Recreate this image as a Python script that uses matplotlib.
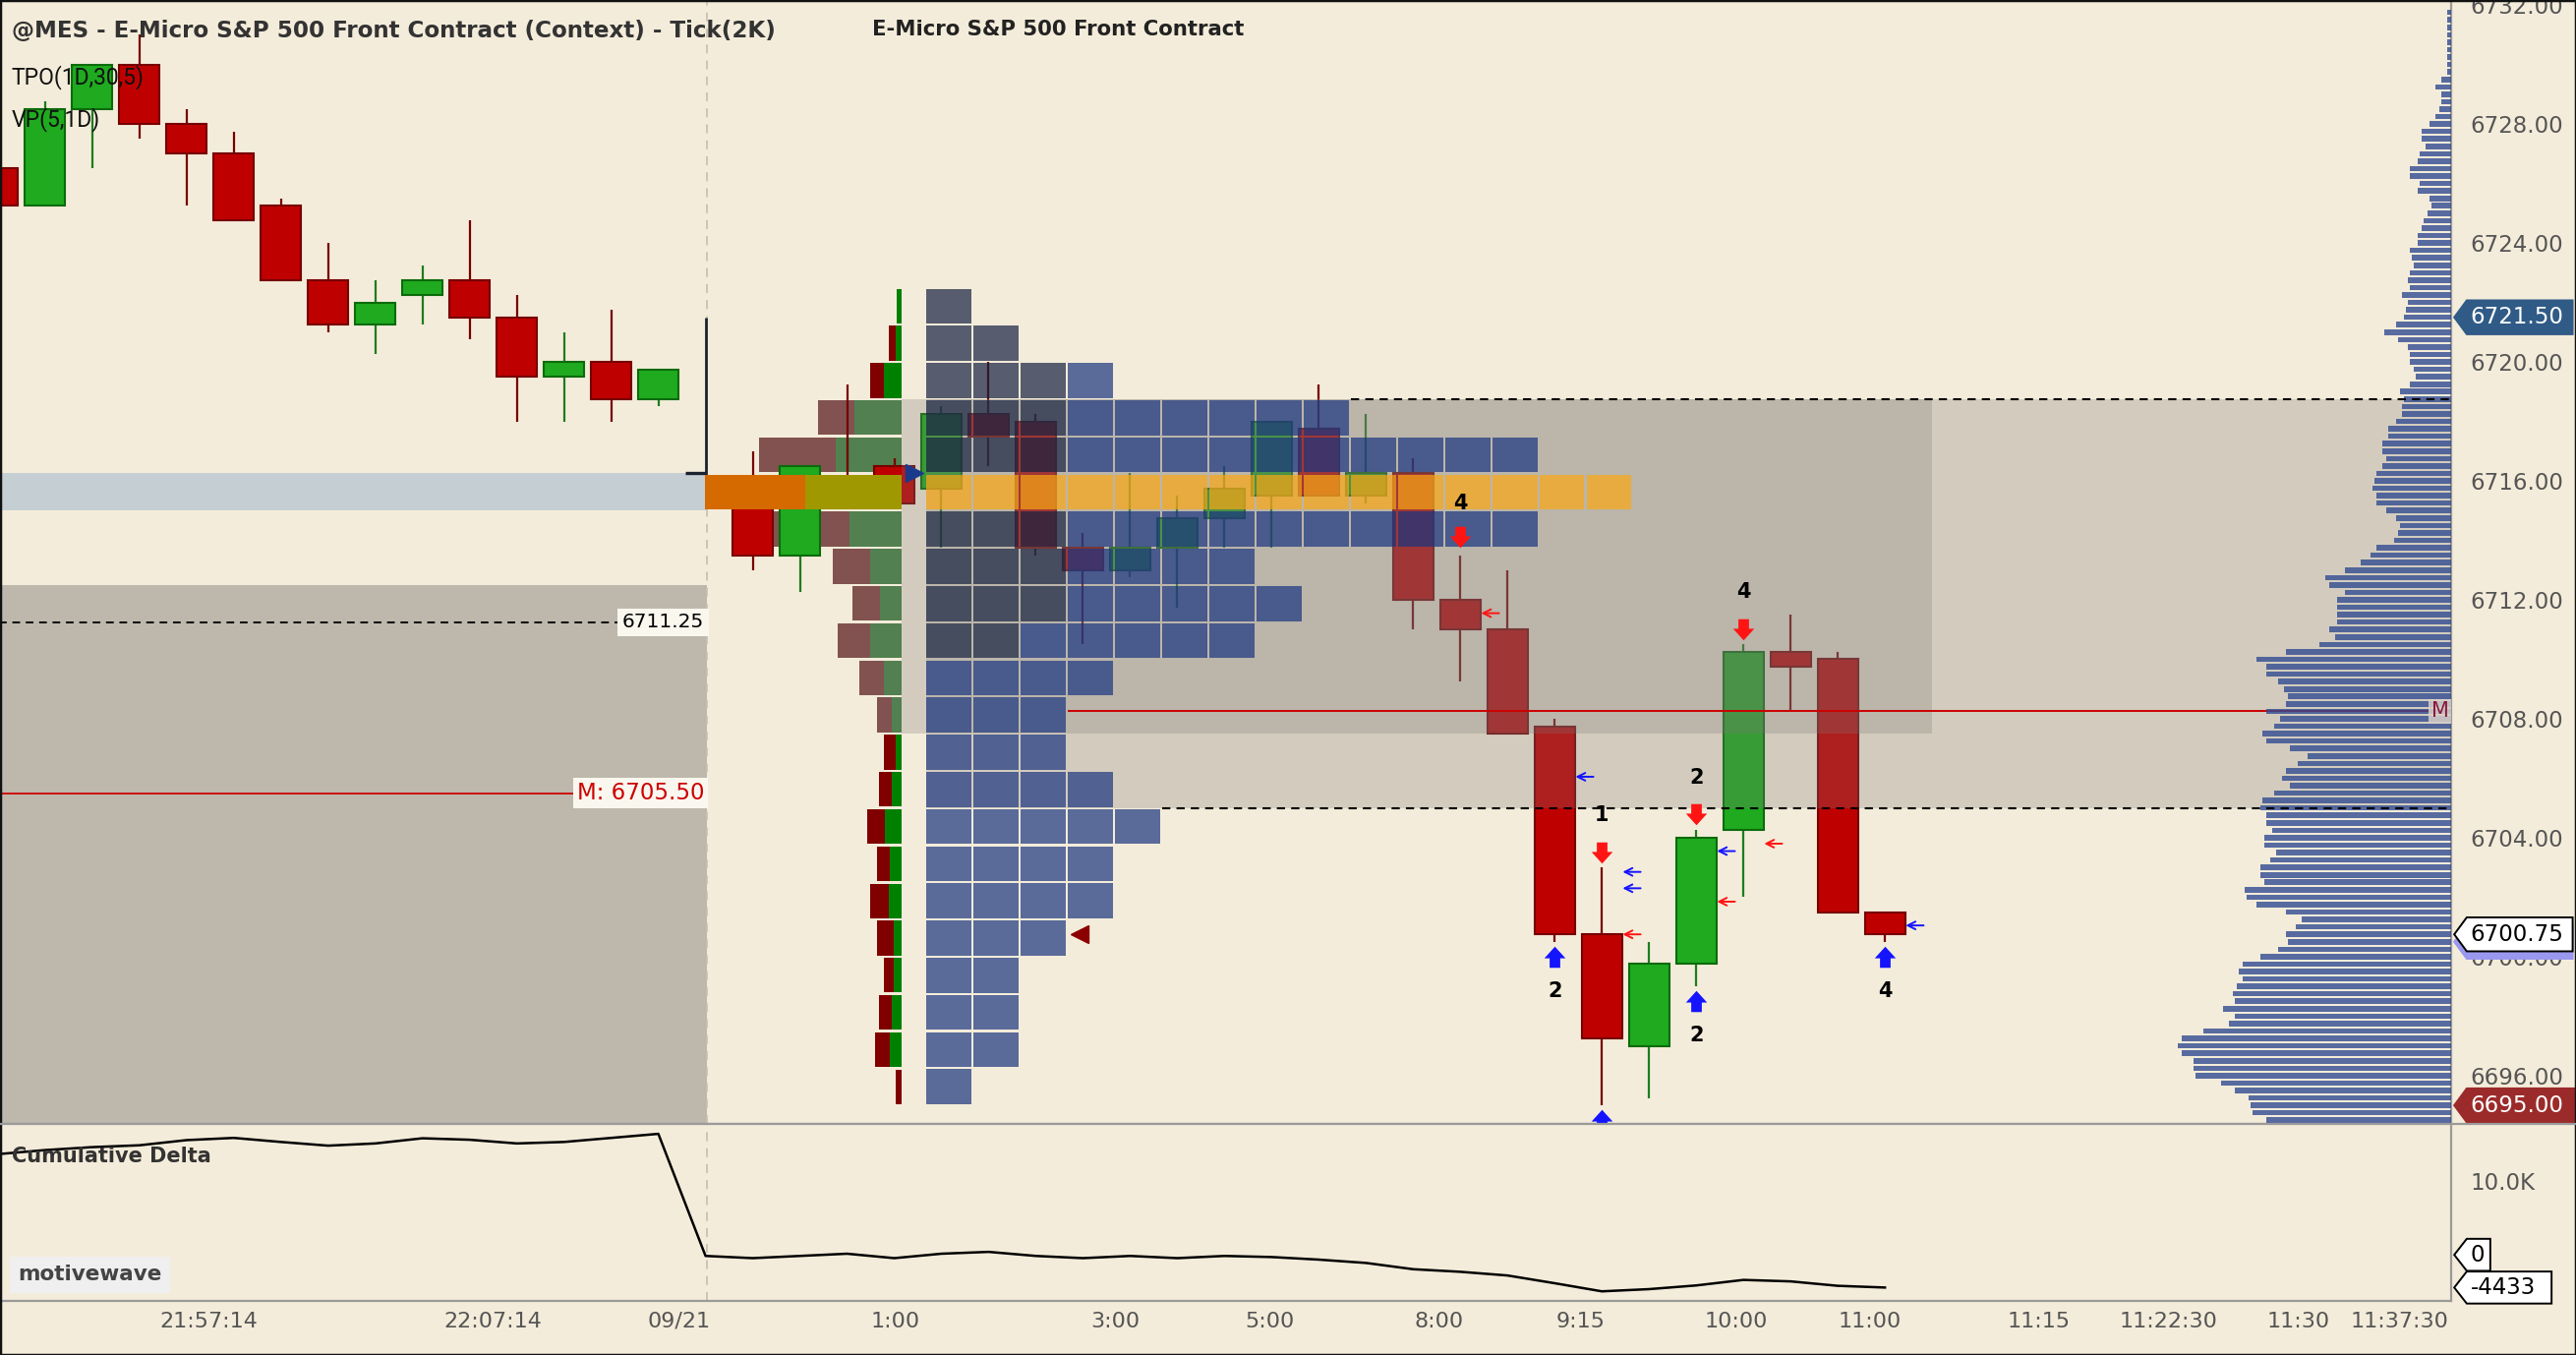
import matplotlib
matplotlib.use("Agg")

import matplotlib.pyplot as plt
import matplotlib.transforms as mtransforms
import numpy as np
from matplotlib.patches import Polygon, Rectangle
from matplotlib.path import Path


# ---- candles, one per slot on the time axis (slot 15 is the session break) ----
candle_slot = list(range(15)) + list(range(16, 41))
candle_open = [6726.5, 6725.25, 6728.5, 6730.0, 6728.0, 6727.0, 6725.25, 6722.75, 6721.25, 6722.25,
               6722.75, 6721.5, 6719.5, 6720.0, 6718.75,
               6716.0, 6713.5, 6716.0, 6716.5, 6715.75, 6718.25, 6718.0, 6713.75, 6713.0, 6713.75,
               6714.75, 6715.5, 6717.75, 6715.5, 6716.25, 6712.0, 6711.0, 6707.75, 6700.75, 6697.0,
               6699.75, 6704.25, 6710.25, 6710.0, 6701.5]
candle_high = [6726.5, 6728.75, 6730.0, 6731.0, 6728.5, 6727.75, 6725.5, 6724.0, 6722.75, 6723.25,
               6724.75, 6722.25, 6721.0, 6721.75, 6719.75,
               6717.0, 6716.5, 6719.25, 6716.75, 6718.5, 6720.0, 6718.25, 6714.25, 6716.25, 6715.5,
               6716.5, 6718.0, 6719.25, 6718.25, 6716.75, 6713.5, 6713.0, 6708.0, 6703.0, 6700.5,
               6704.25, 6710.5, 6711.5, 6710.25, 6701.5]
candle_low = [6725.25, 6725.25, 6726.5, 6727.5, 6725.25, 6724.75, 6722.75, 6721.0, 6720.25, 6721.25,
              6720.75, 6718.0, 6718.0, 6718.0, 6718.5,
              6713.0, 6712.25, 6715.25, 6715.25, 6713.75, 6716.5, 6713.5, 6710.5, 6712.75, 6711.75,
              6713.75, 6713.75, 6715.5, 6715.25, 6711.0, 6709.25, 6707.5, 6700.5, 6695.0, 6695.25,
              6699.0, 6702.0, 6708.25, 6701.5, 6700.5]
candle_close = [6725.25, 6728.5, 6730.0, 6728.0, 6727.0, 6724.75, 6722.75, 6721.25, 6722.0, 6722.75,
                6721.5, 6719.5, 6720.0, 6718.75, 6719.75,
                6713.5, 6716.5, 6715.5, 6715.25, 6718.25, 6717.5, 6713.75, 6713.0, 6713.75, 6714.75,
                6715.75, 6718.0, 6715.5, 6716.25, 6712.0, 6711.0, 6707.5, 6700.75, 6697.25, 6699.75,
                6704.0, 6710.25, 6709.75, 6701.5, 6700.75]

# session break bar (context instrument)
break_slot = 15
break_high, break_low, break_open = 6721.5, 6715.5, 6716.25

# ---- session profile: rows of 1.25 points from the top of the range ----
profile_top = 6722.5
row_size = 1.25
tpo_counts = [1, 2, 4, 9, 13, 15, 13, 7, 8, 7, 4, 3, 3, 4, 5, 4, 4, 3, 2, 2, 2, 1]
tpo_early = [1, 2, 3, 3, 3, 0, 3, 3, 3, 2, 0, 0, 0, 0, 0, 0, 0, 0, 0, 0, 0, 0]
poc_row = 5
vp_sell = [0, 4, 8, 22, 47, 61, 46, 23, 17, 20, 15, 9, 7, 8, 11, 8, 11, 10, 6, 8, 9, 4]
vp_buy = [3, 4, 11, 29, 40, 59, 32, 19, 13, 19, 11, 6, 4, 6, 10, 7, 8, 5, 5, 6, 7, 0]
va_rows = range(3, 12)
va_high = 6718.75
tpo_va_low = 6707.5
vp_va_low = 6705.0
mid_line = 6708.25
session_open = 6716.25
last_price = 6700.75

# previous session levels
prev_level = 6711.25
prev_mid = 6705.5
prev_va_top = 6712.5
prev_poc = (6715.0, 6716.25)

# ---- composite volume profile at the right edge, 0.25 tick rows from the top ----
vp_top_price = 6731.75
vp_right_vol = [2, 2, 2, 2, 2, 2, 2, 2, 2,
                5, 8, 5, 5, 6, 8, 11, 15, 15, 13, 16, 17, 21, 21, 16, 17, 11, 10, 12, 14,
                15, 17, 17, 21, 20, 19, 21, 22, 21, 25, 22, 23, 24, 28, 34, 27, 22, 21, 21, 19,
                18, 21, 26, 24, 25, 25, 28, 32, 32, 35, 35, 33, 35, 38, 39, 40, 38, 38, 33, 28,
                26, 27, 29, 38, 41, 46, 54, 64, 62, 54, 58, 58, 58, 58, 62, 59, 67, 84, 99, 94,
                94, 88,
                85, 83, 84, 94, 87, 90, 96, 94, 82, 73, 78, 84, 86, 82, 90, 96, 97, 94, 94, 91,
                95, 95, 89, 92, 97, 97, 95, 105, 104, 99, 84, 76, 79, 84, 83, 88, 97, 106, 108, 106,
                109, 111, 110, 116, 110, 113, 126, 137, 139, 137, 131, 131, 130, 117, 110, 103, 102, 101, 94]

# ---- signals ----
sell_sig_slot = [31, 34, 36, 37]
sell_sig_price = [6714.1, 6703.5, 6704.8, 6711.0]
sell_sig_label = ["4", "1", "2", "4"]
sell_label_price = [6715.25, 6704.75, 6706.0, 6712.25]
buy_sig_slot = [33, 34, 36, 40]
buy_sig_price = [6700.0, 6694.5, 6698.5, 6700.0]
buy_sig_label = ["2", "", "2", "4"]
buy_label_price = [6698.85, 6694.0, 6697.35, 6698.85]
tick_arrow_slot = [31, 33, 34, 34, 34, 36, 36, 37, 40]
tick_arrow_price = [6711.55, 6706.05, 6702.85, 6702.3, 6700.75, 6703.55, 6701.85, 6703.8, 6701.05]
tick_arrow_side = ["sell", "buy", "buy", "buy", "sell", "buy", "sell", "sell", "buy"]

# ---- cumulative delta, one value per slot 0..40 ----
cum_delta = [13650, 14200, 14600, 14850, 15550, 15850, 15300, 14800, 15100, 15800,
             15600, 15100, 15300, 15850, 16400,
             -150,
             -450, -150, 150, -450, 150, 400, -150, -450, -150, -450,
             -150, -300, -650, -1100, -1950, -2300, -2800, -3850, -4950, -4650,
             -4150, -3400, -3600, -4200, -4433]

# ---- time axis ----
time_ticks = [4.47, 10.49, 14.43, 19.02, 23.69, 26.96, 30.55, 33.54, 36.85, 39.67, 43.26, 46.0, 48.76, 50.91]
time_labels = ["21:57:14", "22:07:14", "09/21", "1:00", "3:00", "5:00", "8:00", "9:15", "10:00",
               "11:00", "11:15", "11:22:30", "11:30", "11:37:30"]

BG = "#f4ecda"
RED, RED_EDGE = "#bf0000", "#760000"
GREEN, GREEN_EDGE = "#1faa1f", "#0b6b0b"
OVERLAY = "#7d7876"
AXIS_TXT = "#555555"
UI_FONT = ["Roboto", "DejaVu Sans"]
WIDE_FONT = ["DejaVu Sans"]

X0, X1 = 0.045, 52.0
divider = 15.02
vp_right = 19.16
tpo_x0 = 19.68
tpo_va_right = 41.0
vp_left_unit = 1 / 28.72
vp_right_unit = 1 / 24.0

fig = plt.figure(figsize=(26.2, 13.78), dpi=100, facecolor=BG)
ax = fig.add_axes([0.0, 0.1702, 0.9515, 0.8298], facecolor=BG)
ax2 = fig.add_axes([0.0, 0.0401, 0.9515, 0.1301], facecolor=BG, sharex=ax)
ax.set_xlim(X0, X1)
ax.set_ylim(6694.36, 6732.17)
ax2.set_ylim(-6214, 17684)

# previous session backdrop on the left
ax.add_patch(Rectangle((-1, 6690), divider + 1, prev_va_top - 6690, color="#bdb8ab", lw=0, zorder=0.5))
ax.add_patch(Rectangle((-1, prev_poc[0]), divider + 1, prev_poc[1] - prev_poc[0], color="#c5cfd3", lw=0, zorder=0.6))
ax.hlines(prev_level, -1, divider, colors="black", linestyles=(0, (4, 3)), lw=1.4, zorder=1)
ax.hlines(prev_mid, -1, divider, colors="#cc0000", lw=1.3, zorder=1)
ax.text(divider - 0.05, prev_level, f"{prev_level:.2f}", ha="right", va="center", fontsize=14.5,
        family=WIDE_FONT, color="black", zorder=2,
        bbox=dict(boxstyle="square,pad=0.22", fc="#faf7ef", ec="none"))
ax.text(divider - 0.05, prev_mid, f"M: {prev_mid:.2f}", ha="right", va="center", fontsize=16.5,
        family=WIDE_FONT, color="#cc0000", zorder=2,
        bbox=dict(boxstyle="square,pad=0.18", fc="#faf7ef", ec="none"))

for a in (ax, ax2):
    a.axvline(divider, color="#c9c1b3", ls=(0, (5, 4)), lw=1.3, zorder=0.8)

# session volume profile (sell left / buy right), POC row drawn over candles
for r in range(len(vp_sell)):
    lo = profile_top - (r + 1) * row_size + 0.04
    h = row_size - 0.08
    b = vp_buy[r] * vp_left_unit
    s = vp_sell[r] * vp_left_unit
    if r == poc_row:
        sc, bc, z = "#d46a00", "#a09800", 4.5
    elif r in va_rows:
        sc, bc, z = "#815250", "#528050", 2
    else:
        sc, bc, z = "#800000", "#008000", 2
    ax.barh(lo, b, left=vp_right - b, height=h, align="edge", color=bc, lw=0, zorder=z)
    ax.barh(lo, s, left=vp_right - b - s, height=h, align="edge", color=sc, lw=0, zorder=z)

# candles
for x, o, hi, lo, c in zip(candle_slot, candle_open, candle_high, candle_low, candle_close):
    up = c >= o
    body = GREEN if up else RED
    edge = GREEN_EDGE if up else RED_EDGE
    wick = "#1d7d1d" if up else RED_EDGE
    ax.vlines(x, lo, hi, colors=wick, lw=1.6, zorder=3)
    ax.bar(x, max(abs(c - o), 0.06), bottom=min(o, c), width=0.86, color=body,
           edgecolor=edge, lw=1.5, zorder=3.01)

ax.vlines(break_slot, break_low, break_high, colors="#1a2230", lw=2.0, zorder=3)
ax.hlines(break_open, break_slot - 0.42, break_slot, colors="#1a2230", lw=2.4, zorder=3)

# value area overlays
ax.add_patch(Rectangle((tpo_x0, vp_va_low), X1 + 1 - tpo_x0, va_high - vp_va_low,
                       fc=OVERLAY, alpha=0.27, lw=0, zorder=3.5))
ax.add_patch(Rectangle((vp_right, tpo_va_low), tpo_va_right - vp_right, va_high - tpo_va_low,
                       fc=OVERLAY, alpha=0.27, lw=0, zorder=3.5))

# TPO blocks
for r, (n, early) in enumerate(zip(tpo_counts, tpo_early)):
    lo = profile_top - (r + 1) * row_size + 0.035
    for k in range(n):
        if r == poc_row:
            col = "#faa713"
        elif k < early:
            col = "#152140"
        else:
            col = "#193480"
        ax.bar(tpo_x0 + k, row_size - 0.07, bottom=lo, width=0.95, align="edge",
               color=col, alpha=0.7, lw=0, zorder=4)


def row_of(price):
    return int((profile_top - price) / row_size)


ax.plot(vp_right + 0.26, session_open, marker=">", ms=13, color="#1c3a8c", zorder=8, ls="none")
ax.plot(tpo_x0 + tpo_counts[row_of(last_price)] + 0.25, last_price, marker="<", ms=13,
        color="#8b0000", zorder=8, ls="none")

# composite profile on the right edge
vp_prices = vp_top_price - 0.25 * np.arange(len(vp_right_vol))
widths = np.array(vp_right_vol) * vp_right_unit
ax.barh(vp_prices, widths, left=X1 - widths, height=0.185, color="#314b92", alpha=0.8, lw=0, zorder=5)

# value area edges and midpoint
ax.hlines(va_high, tpo_x0 + tpo_counts[row_of(va_high)], X1, colors="black",
          linestyles=(0, (4, 3)), lw=1.5, zorder=6)
ax.hlines(vp_va_low, tpo_x0 + tpo_counts[row_of(vp_va_low)], X1, colors="black",
          linestyles=(0, (4, 3)), lw=1.5, zorder=6)
ax.hlines(mid_line, tpo_x0 + tpo_counts[row_of(mid_line)], X1, colors="#cc0000", lw=1.4, zorder=4.8)
ax.text(X1 - 0.05, mid_line, "M", ha="right", va="center", fontsize=15, family=WIDE_FONT,
        color="#8a1a40", zorder=6,
        bbox=dict(boxstyle="square,pad=0.12", fc="#d8d0c8", ec="none", alpha=0.85))

# signals
down_arrow = Path([(-0.25, 0.5), (0.25, 0.5), (0.25, 0.05), (0.5, 0.05), (0, -0.5),
                   (-0.5, 0.05), (-0.25, 0.05), (-0.25, 0.5)], closed=True)
up_arrow = Path([(-0.25, -0.5), (0.25, -0.5), (0.25, -0.05), (0.5, -0.05), (0, 0.5),
                 (-0.5, -0.05), (-0.25, -0.05), (-0.25, -0.5)], closed=True)
ax.plot(sell_sig_slot, sell_sig_price, ls="none", marker=down_arrow, ms=15.5, color="#ff1414",
        mec="none", zorder=8)
ax.plot(buy_sig_slot, buy_sig_price, ls="none", marker=up_arrow, ms=15.5, color="#1414ff",
        mec="none", zorder=8)
for x, y, t in zip(sell_sig_slot + buy_sig_slot, sell_label_price + buy_label_price,
                   sell_sig_label + buy_sig_label):
    if t:
        ax.text(x, y, t, ha="center", va="center", fontsize=15, fontweight="bold",
                family=WIDE_FONT, color="black", zorder=8)
for x, y, side in zip(tick_arrow_slot, tick_arrow_price, tick_arrow_side):
    ax.annotate("", xy=(x + 0.44, y), xytext=(x + 0.82, y),
                arrowprops=dict(arrowstyle="->", color="#ff1414" if side == "sell" else "#1414ff",
                                lw=1.4, mutation_scale=14, shrinkA=0, shrinkB=0),
                zorder=8)

# cumulative delta
ax2.plot(range(len(cum_delta)), cum_delta, color="black", lw=1.8, zorder=3)

# axes styling
for a in (ax, ax2):
    for side in ("top", "left"):
        a.spines[side].set_visible(False)
    for side in ("right", "bottom"):
        a.spines[side].set_color("#9a9a9a")
        a.spines[side].set_linewidth(1.6)
    a.yaxis.tick_right()
    a.tick_params(axis="y", length=0, pad=14, labelsize=16.5, labelcolor=AXIS_TXT)

ax.tick_params(axis="x", bottom=False, labelbottom=False)
price_ticks = np.arange(6696, 6733, 4)
ax.set_yticks(price_ticks)
ax.set_yticklabels([f"{v:.2f}" for v in price_ticks])
ax2.set_yticks([10000])
ax2.set_yticklabels(["10.0K"])
ax2.set_xticks(time_ticks)
ax2.set_xticklabels(time_labels)
ax2.tick_params(axis="x", length=0, pad=8, labelsize=16, labelcolor=AXIS_TXT)


def price_tag(a, y, text, face, edge, tcolor, half_h, x1=1.0496):
    tr = mtransforms.blended_transform_factory(a.transAxes, a.transData)
    x0, tip = 1.0013, 0.0051
    verts = [(x0, y), (x0 + tip, y + half_h), (x1, y + half_h), (x1, y - half_h), (x0 + tip, y - half_h)]
    a.add_patch(Polygon(verts, closed=True, transform=tr, fc=face, ec=edge, lw=1.4,
                        clip_on=False, zorder=20))
    a.text(x0 + 0.0066, y, text, transform=tr, color=tcolor, fontsize=16.5, ha="left",
           va="center", clip_on=False, zorder=21)


price_tag(ax, 6721.5, "6721.50", "#2f5b86", "#2f5b86", "white", 0.57)
price_tag(ax, 6700.5, "", "#9a98ee", "#9a98ee", "white", 0.57)
price_tag(ax, last_price, "6700.75", "white", "black", "black", 0.57)
price_tag(ax, 6695.0, "6695.00", "#9b2b2b", "#9b2b2b", "white", 0.57, x1=1.06)
price_tag(ax2, 0, "0", "white", "black", "black", 2170, x1=1.016)
price_tag(ax2, cum_delta[-1], f"{cum_delta[-1]}", "white", "black", "black", 2170, x1=1.041)

# header texts
fig.text(0.0045, 0.977, "@MES - E-Micro S&P 500 Front Contract (Context) - Tick(2K)", fontsize=16.6,
         fontweight="bold", family=WIDE_FONT, color="#333333", va="center", ha="left")
fig.text(0.4107, 0.978, "E-Micro S&P 500 Front Contract", fontsize=15.3, fontweight="bold",
         family=WIDE_FONT, color="#222222", va="center", ha="center")
fig.text(0.0045, 0.943, "TPO(1D,30,5)", fontsize=16.5, family=UI_FONT, color="#111111", va="center")
fig.text(0.0045, 0.9115, "VP(5,1D)", fontsize=16.5, family=UI_FONT, color="#111111", va="center")
fig.text(0.0045, 0.1467, "Cumulative Delta", fontsize=15, fontweight="bold", family=WIDE_FONT,
         color="#333333", va="center")
fig.text(0.007, 0.0594, "motivewave", fontsize=15.5, fontweight="bold", family=WIDE_FONT,
         color="#444444", va="center",
         bbox=dict(boxstyle="square,pad=0.4", fc="#efefef", ec="none"))

fig.add_artist(plt.Line2D([0, 1], [0.1702, 0.1702], transform=fig.transFigure, color="#9a9a9a", lw=1.6))
fig.add_artist(Rectangle((0, 0), 1, 1, transform=fig.transFigure, fill=False, ec="#111111", lw=2.5))

fig.savefig("out.png", dpi=100, facecolor=BG)
